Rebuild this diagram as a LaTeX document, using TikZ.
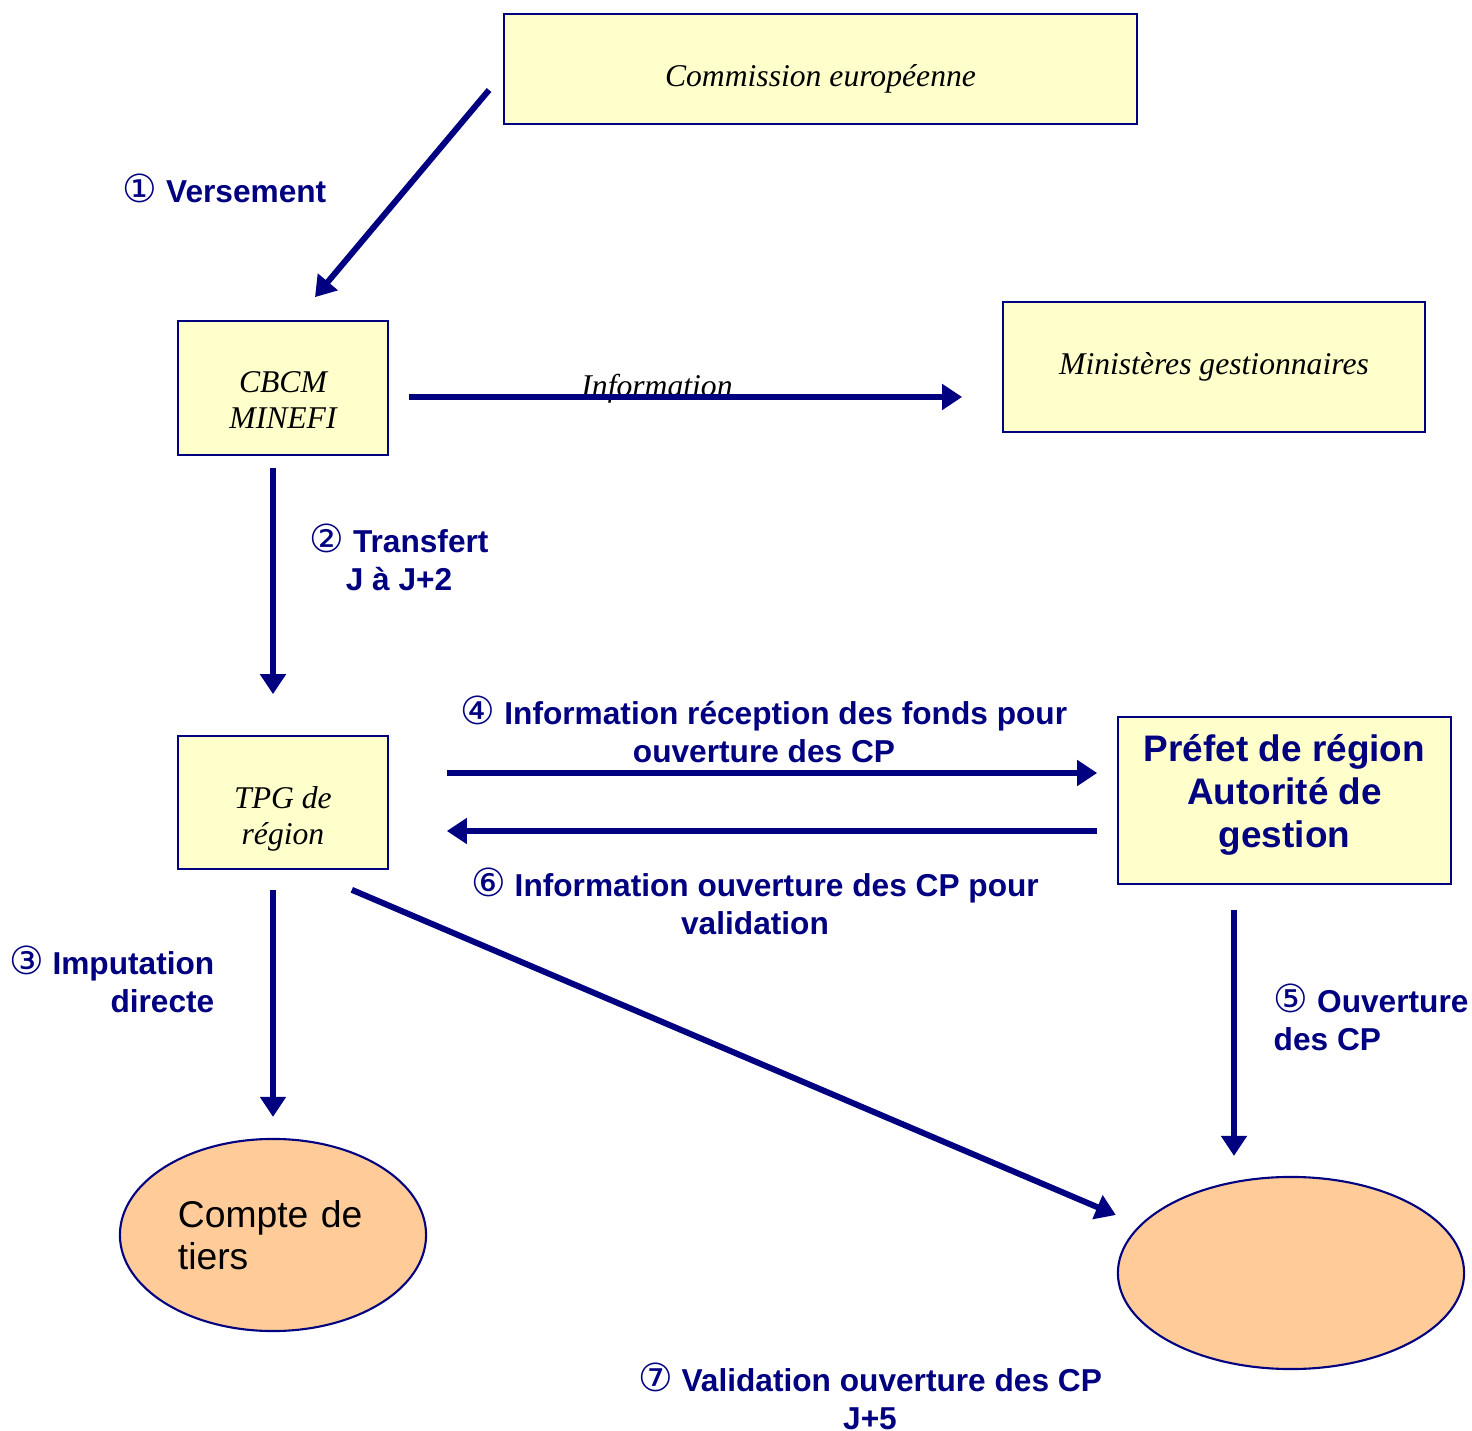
\documentclass[tikz,border=0pt]{standalone}
\usepackage{fontspec}
\setmainfont{Liberation Serif}
\setsansfont{Liberation Sans}
\newfontfamily\numfont{DejaVu Sans}
\usetikzlibrary{arrows.meta,calc,shapes.geometric}
\definecolor{navy}{RGB}{0,0,128}
\definecolor{boxfill}{RGB}{255,255,204}
\definecolor{ovalfill}{RGB}{255,204,153}
\newcommand{\circnum}[1]{{\numfont\mdseries\fontsize{11}{10.8}\selectfont #1}}
\tikzset{
  box/.style={draw=navy, line width=0.45pt, fill=boxfill, inner sep=0pt, align=center,
    font=\fontsize{9}{10.3}\selectfont\itshape},
  oval/.style={ellipse, draw=navy, line width=0.6pt, fill=ovalfill, inner sep=0pt},
  flow/.style={draw=navy, line width=0.06cm, -{Triangle[length=0.2cm,width=0.25cm]}},
  lbl/.style={text=navy, inner sep=0pt, font=\fontsize{9}{10.8}\selectfont\sffamily\bfseries},
}
\begin{document}
\begin{tikzpicture}[x=0.01cm, y=-0.01cm]
\useasboundingbox (0,0) rectangle (1472,1431);
\node[box, minimum width=6.33cm, minimum height=1.1cm] (ce) at (820.5,69) {\rule{0pt}{12pt}Commission européenne};
\node[box, minimum width=2.1cm, minimum height=1.34cm] (cbcm) at (283,388) {\rule{0pt}{13pt}CBCM\\MINEFI};
\node[box, minimum width=4.22cm, minimum height=1.3cm] (min) at (1214,367) {Ministères gestionnaires};
\node[box, minimum width=2.1cm, minimum height=1.33cm] (tpg) at (283,802.5) {\rule{0pt}{15.5pt}TPG de\\région};
\node[box, minimum width=3.33cm, minimum height=1.67cm, text=navy,
  font=\fontsize{10.5}{12.2}\selectfont\sffamily\bfseries] (prefet) at (1284.5,800.5) {Préfet de région\\Autorité de\\gestion\rule[-5.6pt]{0pt}{0pt}};
\node[oval, minimum width=3.06cm, minimum height=1.92cm, text width=1.9cm, align=left,
  font=\fontsize{10.6}{12}\selectfont\sffamily] (tiers) at (273,1235) {Compte de\\tiers};
\node[oval, minimum width=3.46cm, minimum height=1.92cm] (valid) at (1291,1273) {};

\node[lbl, anchor=west] (l1) at (122,188) {\circnum{①} Versement};
\node[lbl, align=center] (l2) at (399,557) {\circnum{②} Transfert\\J à J+2};
\node[lbl, align=right, anchor=east] (l3) at (215,979) {\circnum{③} Imputation\\directe};
\node[lbl, align=center] (l4) at (764,729) {\circnum{④} Information réception des fonds pour\\ouverture des CP};
\node[lbl, align=left, anchor=west] (l5) at (1273,1017) {\circnum{⑤} Ouverture\\des CP};
\node[lbl, align=center] (l6) at (755,901) {\circnum{⑥} Information ouverture des CP pour\\validation};
\node[lbl, align=center] (l7) at (870,1396) {\circnum{⑦} Validation ouverture des CP\\J+5};
\node[inner sep=0pt, anchor=base, font=\fontsize{9}{10}\selectfont\itshape] (info) at (657,397) {Information};

\draw[flow] ($(ce.west)+(-14,21)$) -- ($(cbcm.north)+(32,-23)$);
\draw[flow] ($(cbcm.east)+(20,9)$) -- ($(min.west)+(-40,30)$);
\draw[flow] ($(cbcm.south)+(-10,12)$) -- ($(tpg.north)+(-10,-41)$);
\draw[flow] ($(tpg.east)+(58,-29.5)$) -- ($(prefet.west)+(-20,-27.5)$);
\draw[flow] ($(prefet.west)+(-20,30.5)$) -- ($(tpg.east)+(58,28.5)$);
\draw[flow] ($(tpg.south)+(-10,20)$) -- ($(tiers.north)+(0,-21)$);
\draw[flow] ($(tpg.south east)+(-37,20)$) -- ($(valid.west)+(-1,-58)$);
\draw[flow] ($(prefet.south)+(-50.5,25)$) -- ($(valid.north)+(-57,-20)$);
\end{tikzpicture}
\end{document}
